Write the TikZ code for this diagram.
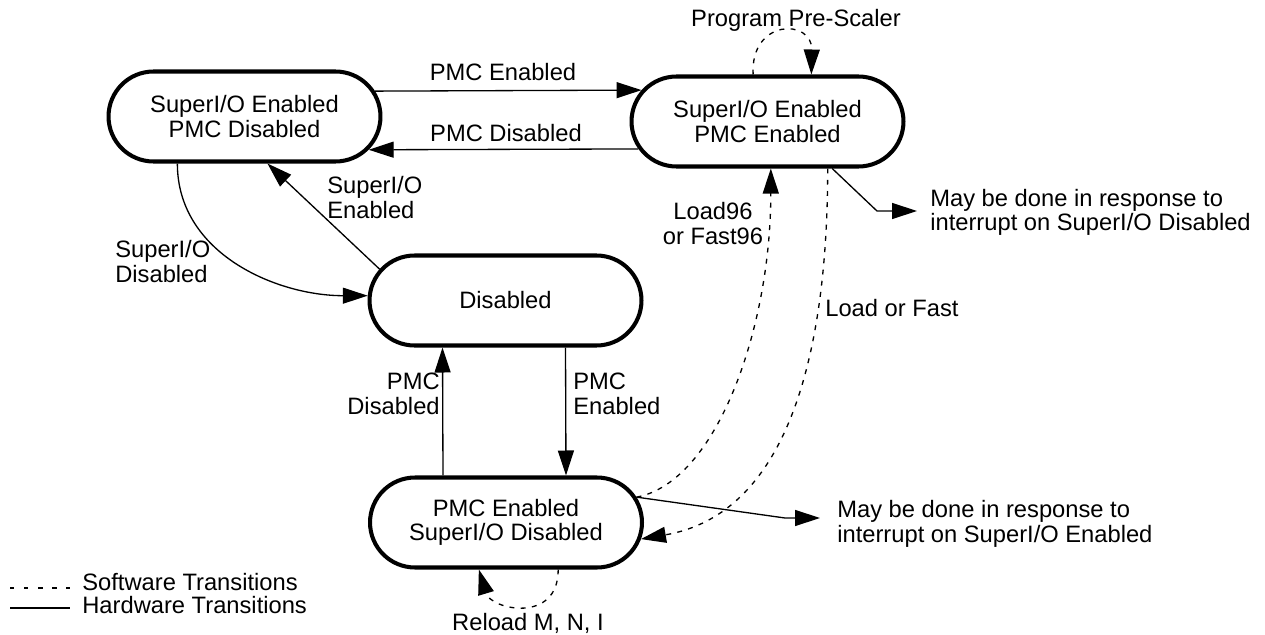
\documentclass[tikz,border=0pt]{standalone}
\usepackage{fontspec}
\setmainfont{Liberation Sans}
\usepackage{tikz}
\usetikzlibrary{
  arrows.meta,
  shapes.misc,
  positioning,
  calc
}
\tikzset{
  stbox/.style={rounded rectangle, draw, line width=2.3pt, minimum width=5.44cm, minimum height=1.8cm, inner sep=0pt, align=center},
  hw/.style={line width=0.75pt, -{Triangle[length=0.5cm, width=0.32cm]}},
  sw/.style={hw, dash pattern=on 2.8pt off 3.6pt},
  lbl/.style={inner sep=0pt, align=left}
}

\begin{document}
\begin{tikzpicture}[x=0.02cm, y=-0.02cm, font=\fontsize{13.5pt}{13.7pt}\selectfont]
  \useasboundingbox (0,0) rectangle (1265,635);
  % states
  \node[stbox] (sioOnly) at (244.5,116.5) {SuperI/O Enabled\\PMC Disabled};
  \node[stbox] (both) at (767.5,121.5) {SuperI/O Enabled\\PMC Enabled};
  \node[stbox] (off) at (505.5,300.5) {Disabled};
  \node[stbox] (pmcOnly) at (506,522.5) {PMC Enabled\\SuperI/O Disabled};

  % hardware transitions
  \draw[hw] (sioOnly.11) -- (both.166.5);
  \node[lbl, anchor=base] (tEn) at (503,80.7) {PMC Enabled};
  \draw[hw] (both.192) -- (sioOnly.345.4);
  \node[lbl, anchor=base] (tDis) at (506,141.7) {PMC Disabled};
  \draw[hw] (off.166.6) -- (sioOnly.-64);
  \node[lbl, anchor=base west] (tSioEn) at (327,218) {SuperI/O\\Enabled};
  \draw[hw] (sioOnly.215.25) to[out=-90, in=180] (off.178);
  \node[lbl, anchor=base west] (tSioDis) at (115,282) {SuperI/O\\Disabled};
  \draw[hw] ($(pmcOnly.north)+(-63,0)$) -- ($(off.south)+(-63,0)$);
  \node[lbl, anchor=base east, align=right] (tPmcDis) at (440,414) {PMC\\Disabled};
  \draw[hw] ($(off.south)+(60,0)$) -- ($(pmcOnly.north)+(60,0)$);
  \node[lbl, anchor=base west] (tPmcEn) at (573,414) {PMC\\Enabled};

  % software transitions
  \draw[sw] (pmcOnly.11) .. controls +(80,-15) and +(0,160) .. (both.-86);
  \node[lbl, anchor=base, align=center] (tLoad96) at (713,244) {Load96\\or Fast96};
  \draw[sw] (both.-38) .. controls +(0,190) and +(145,-25) .. (pmcOnly.-7);
  \node[lbl, anchor=base west] (tLoad) at (825,316) {Load or Fast};
  \draw[sw] (both.107) .. controls +(-3,-56) and +(1,-56) .. (both.47);
  \node[lbl, anchor=base] (tPre) at (796,27) {Program Pre-Scaler};
  \draw[sw] (pmcOnly.-42) .. controls +(0,55) and +(12,40) .. (pmcOnly.-120);
  \node[lbl, anchor=base] (tReload) at (528,630) {Reload M, N, I};

  % notes
  \node[lbl, anchor=base west, inner xsep=0.26cm] (noteB) at (917,231) {May be done in response to\\interrupt on SuperI/O Disabled};
  \coordinate (kneeB) at (877,211);
  \draw[hw] (both.-36) -- (kneeB) -- (kneeB -| noteB.west);
  \node[lbl, anchor=base west, inner xsep=0.34cm] (noteD) at (820,542) {May be done in response to\\interrupt on SuperI/O Enabled};
  \coordinate (kneeD) at (785,518);
  \draw[hw] (pmcOnly.11) -- (kneeD) -- (kneeD -| noteD.west);

  % legend
  \draw[line width=0.75pt, dash pattern=on 2.5pt off 5.5pt] (10,588) -- (70,588);
  \node[lbl, anchor=base west] (legSw) at (82,590) {Software Transitions};
  \draw[line width=0.75pt] (10,608) -- (70,608);
  \node[lbl, anchor=base west] (legHw) at (82,613) {Hardware Transitions};
\end{tikzpicture}
\end{document}
